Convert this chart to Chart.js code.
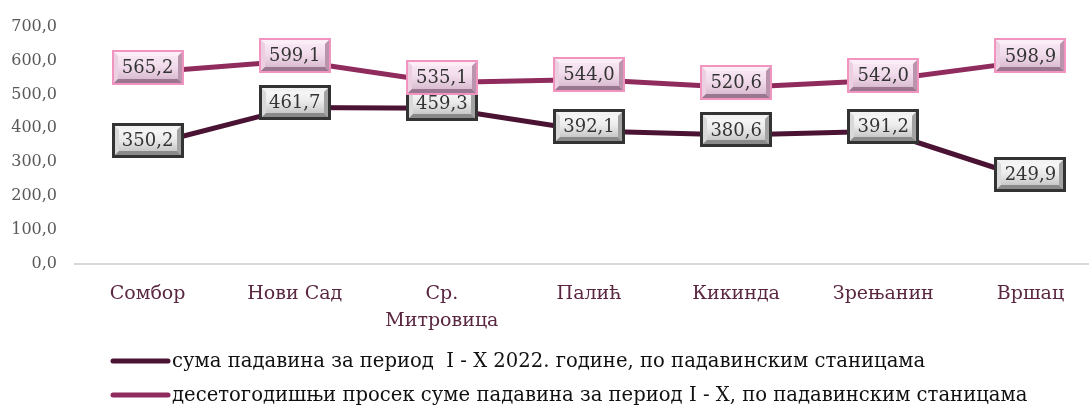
<!DOCTYPE html>
<html>
<head>
<meta charset="utf-8">
<script src="https://cdn.jsdelivr.net/npm/chart.js@4"></script>
<style>
  html, body { margin:0; padding:0; background:#fff; overflow:hidden; width:1089px; height:405px; }
  #wrap { position:relative; width:1104px; height:405px; }
</style>
</head>
<body>
<div id="wrap"><canvas id="c"></canvas></div>
<script>
/* ── Data ─────────────────────────────────────────────────────── */
const stations  = ['Сомбор', 'Нови Сад', ['Ср.', 'Митровица'], 'Палић', 'Кикинда', 'Зрењанин', 'Вршац'];
const sum2022   = [350.2, 461.7, 459.3, 392.1, 380.6, 391.2, 249.9];
const avg10yr   = [565.2, 599.1, 535.1, 544.0, 520.6, 542.0, 598.9];
const seriesNames = [
  'сума падавина за период  I - X 2022. године, по падавинским станицама',
  'десетогодишњи просек суме падавина за период I - X, по падавинским станицама'
];

const FONT = '"DejaVu Serif", serif';
const DARK = '#4b1333', PINK = '#8f2c5d';

function fmt1(v) { return v.toFixed(1).replace('.', ','); }

/* ── Bevelled data-label boxes ───────────────────────────────── */
function bevelBox(ctx, cx, cy, w, h, st) {
  const x = Math.round(cx - w/2), y = Math.round(cy - h/2), b = 4;
  ctx.fillStyle = st.border; ctx.fillRect(x, y, w, h);
  const ix = x + st.bw, iy = y + st.bw, iw = w - 2*st.bw, ih = h - 2*st.bw;
  const g = ctx.createLinearGradient(0, iy, 0, iy + ih);
  g.addColorStop(0, st.face[0]); g.addColorStop(0.45, st.face[1]); g.addColorStop(1, st.face[2]);
  ctx.fillStyle = g; ctx.fillRect(ix, iy, iw, ih);
  const quad = (pts, col) => { ctx.beginPath(); ctx.moveTo(pts[0], pts[1]);
    for (let i = 2; i < pts.length; i += 2) ctx.lineTo(pts[i], pts[i+1]);
    ctx.closePath(); ctx.fillStyle = col; ctx.fill(); };
  quad([ix,iy, ix+iw,iy, ix+iw-b,iy+b, ix+b,iy+b], st.top);
  quad([ix,iy, ix+b,iy+b, ix+b,iy+ih-b, ix,iy+ih], st.left);
  quad([ix,iy+ih, ix+b,iy+ih-b, ix+iw-b,iy+ih-b, ix+iw,iy+ih], st.bottom);
  quad([ix+iw,iy, ix+iw,iy+ih, ix+iw-b,iy+ih-b, ix+iw-b,iy+b], st.right);
}

const BOX_STYLES = [
  { border:'#333333', bw:3, face:['#fbfbfb','#ececec','#bdbdbd'], top:'#f2f2f2', left:'#d9d9d9', bottom:'#8a8a8a', right:'#a3a3a3' },
  { border:'#f294c0', bw:2, face:['#fbeaf6','#f1dcec','#d4b3c9'], top:'#fbeef7', left:'#ecd0e2', bottom:'#9b7690', right:'#b994ac' }
];

const labelPlugin = {
  id: 'boxLabels',
  afterDatasetsDraw(chart) {
    const ctx = chart.ctx;
    ctx.save();
    chart.data.datasets.forEach((ds, di) => {
      chart.getDatasetMeta(di).data.forEach((pt, i) => {
        const cy = pt.y - 5;
        bevelBox(ctx, pt.x, cy, 72, 35, BOX_STYLES[di]);
        ctx.fillStyle = '#333';
        ctx.font = '18px ' + FONT;
        ctx.textAlign = 'center'; ctx.textBaseline = 'middle';
        ctx.fillText(fmt1(ds.data[i]), pt.x, cy + 1);
      });
    });
    ctx.restore();
  }
};

/* ── Legend, two left-aligned rows ───────────────────────────── */
const legendPlugin = {
  id: 'rowLegend',
  afterDraw(chart) {
    const ctx = chart.ctx;
    ctx.save();
    ctx.font = '19.6px ' + FONT;
    ctx.textBaseline = 'middle';
    chart.data.datasets.forEach((ds, i) => {
      const y = 361 + i * 34;
      ctx.strokeStyle = ds.borderColor; ctx.lineWidth = 5; ctx.lineCap = 'round';
      ctx.beginPath(); ctx.moveTo(113, y); ctx.lineTo(168, y); ctx.stroke();
      ctx.fillStyle = '#111';
      ctx.fillText(ds.label, 172, y + 1);
    });
    ctx.restore();
  }
};

new Chart(document.getElementById('c'), {
  type: 'line',
  data: {
    labels: stations,
    datasets: [
      { label: seriesNames[0], data: sum2022, borderColor: DARK, borderWidth: 5, pointRadius: 0, tension: 0 },
      { label: seriesNames[1], data: avg10yr, borderColor: PINK, borderWidth: 5, pointRadius: 0, tension: 0 }
    ]
  },
  options: {
    responsive: true, maintainAspectRatio: false, animation: false,
    layout: { padding: { top: 15, left: 0, right: 0, bottom: 0 } },
    plugins: { legend: { display: false }, tooltip: { enabled: false } },
    scales: {
      x: {
        offset: true,
        grid: { display: false }, border: { display: false },
        ticks: { color: '#5a2640', font: { family: FONT, size: 19, lineHeight: 1.4 }, padding: 9, maxRotation: 0, autoSkip: false },
        afterFit: s => { s.height = 141; }
      },
      y: {
        min: 0, max: 700,
        border: { display: false },
        grid: { drawTicks: false, lineWidth: 2, color: c => c.tick.value === 0 ? '#d9d9d9' : 'transparent' },
        ticks: { stepSize: 100, color: '#595959', font: { family: FONT, size: 16 }, padding: 17, callback: v => fmt1(v) },
        afterFit: s => { s.width = 74; }
      }
    }
  },
  plugins: [labelPlugin, legendPlugin]
});
</script>
</body>
</html>
